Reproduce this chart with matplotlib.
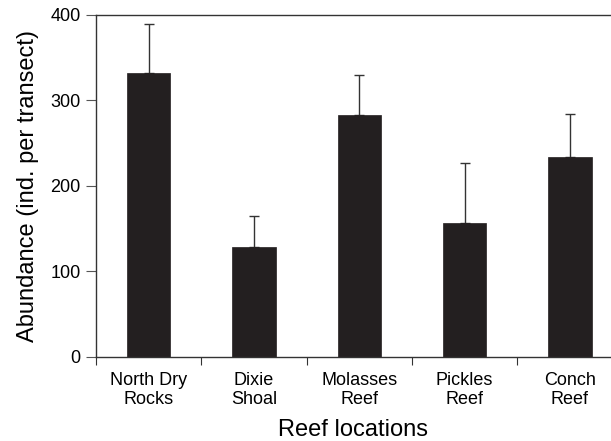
import numpy as np
import matplotlib
matplotlib.use("Agg")
import matplotlib.pyplot as plt

plt.rcParams['font.family'] = ['Liberation Sans', 'DejaVu Sans']

locations = ["North Dry\nRocks", "Dixie\nShoal", "Molasses\nReef", "Pickles\nReef", "Conch\nReef"]
abundance = [332, 129, 283, 157, 234]
error_up = [58, 36, 47, 70, 50]

fig = plt.figure(figsize=(6.11, 4.41), dpi=100)
ax = fig.add_axes([0.157, 0.1905, 0.843, 0.7755])

x = np.arange(len(locations))
ax.bar(x, abundance, width=0.41, color='#231f20', edgecolor='#231f20', linewidth=0.5, zorder=2)
ax.errorbar(x, abundance, yerr=[np.zeros(len(x)), error_up], fmt='none',
            ecolor='#333333', elinewidth=1.0, capsize=3.3, capthick=1.0, zorder=1)

ax.set_xlim(-0.5, 4.39)
ax.set_ylim(0, 400)
ax.set_yticks([0, 100, 200, 300, 400])

# category labels centred on bars, tick marks between groups
ax.set_xticks(x)
ax.set_xticklabels(locations, fontsize=13, linespacing=1.15)
ax.tick_params(axis='x', length=0, pad=11)
ax.set_xticks(np.arange(-0.5, 4.0, 1.0), minor=True)
ax.tick_params(axis='x', which='minor', length=6, width=0.8, direction='out', color='#333333')
ax.tick_params(axis='y', length=7, width=0.8, direction='out', color='#555555', labelsize=13, pad=4)

ax.spines['right'].set_visible(False)
for s in ['left', 'bottom', 'top']:
    ax.spines[s].set_linewidth(1.0)
    ax.spines[s].set_color('#333333')

ax.set_xlabel("Reef locations", fontsize=17, labelpad=8)
ax.set_ylabel("Abundance (ind. per transect)", fontsize=17, labelpad=8)

fig.savefig("out.png", dpi=100)
